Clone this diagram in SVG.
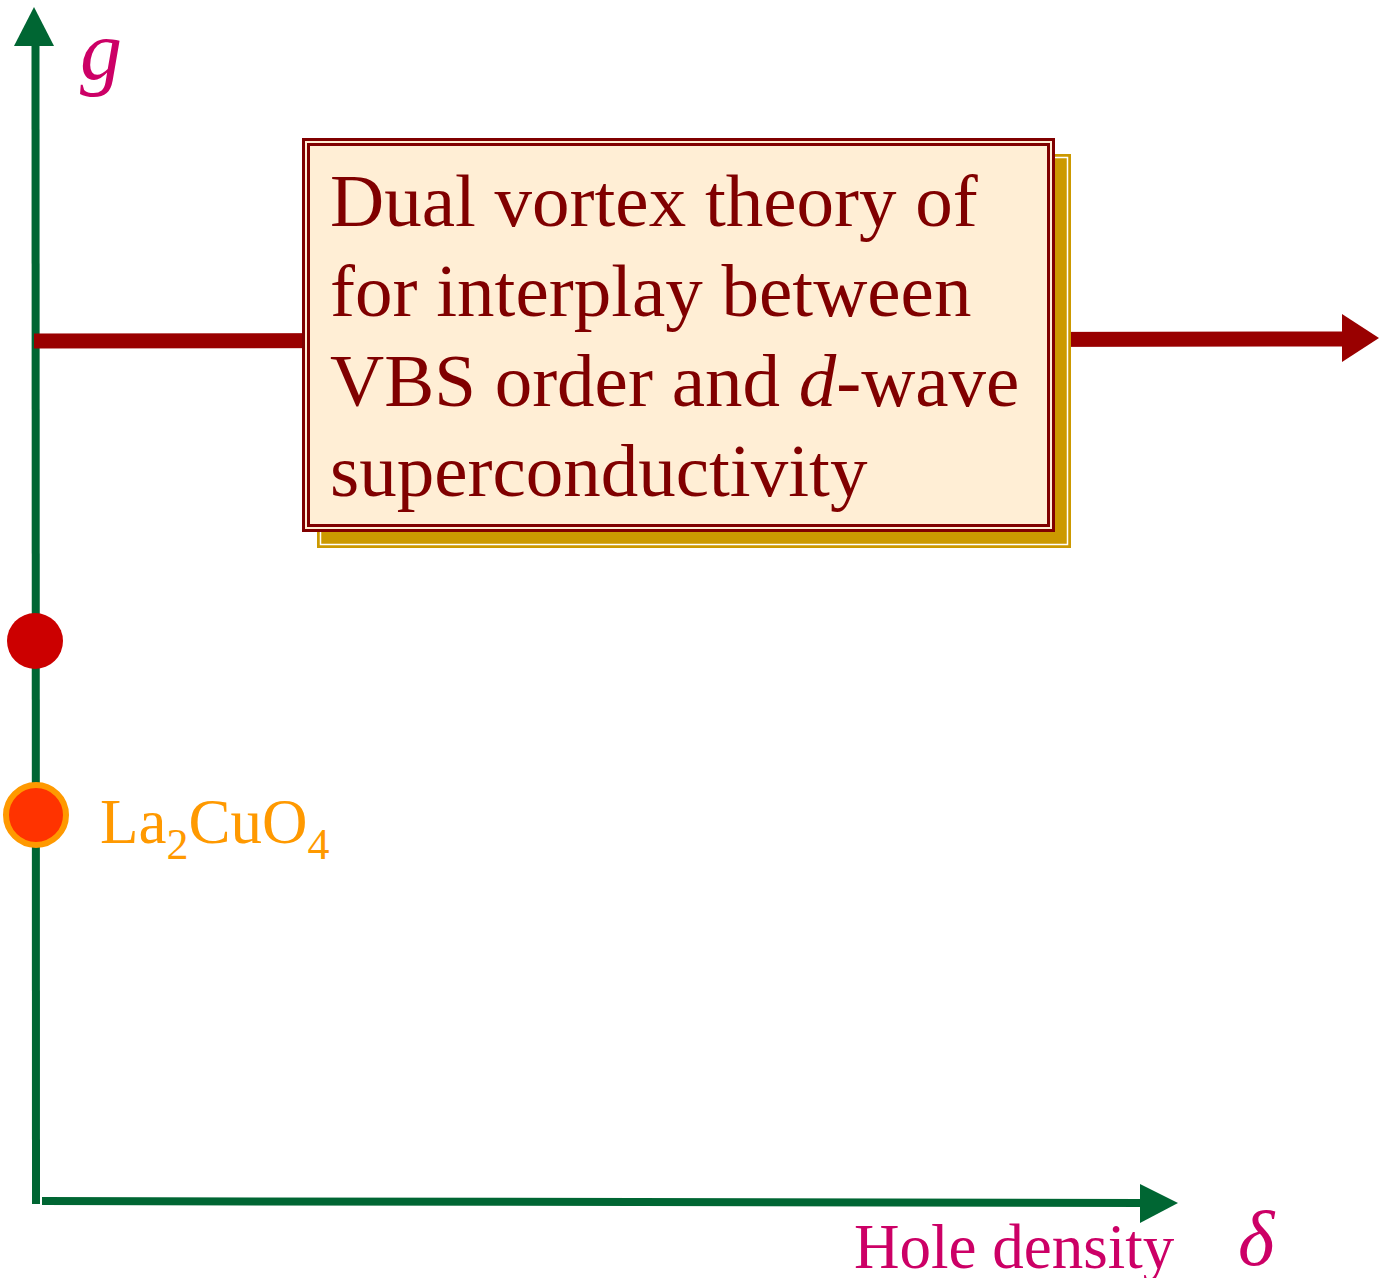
<svg xmlns="http://www.w3.org/2000/svg" width="1379" height="1278" viewBox="0 0 1379 1278">
<style>
.axis{stroke:#006633;stroke-width:8;fill:none}
.serif{font-family:"Liberation Serif","Times New Roman",serif}
.boxtext{font-size:75px;fill:#800000}
.mag{fill:#CC0066}
</style>
<rect width="1379" height="1278" fill="#ffffff"/>
<g id="connectors">
  <line class="axis" x1="35.5" y1="44" x2="36" y2="1204"/>
  <polygon points="34,7 14,46 54,46" fill="#006633"/>
  <line class="axis" x1="42" y1="1201" x2="1142" y2="1203"/>
  <polygon points="1140,1184 1178,1203 1140,1223" fill="#006633"/>
  <line x1="34" y1="341" x2="1344" y2="339" stroke="#990000" stroke-width="15"/>
  <polygon points="1342,314 1379,338 1342,362" fill="#990000"/>
</g>
<g id="theory-box">
  <rect x="317" y="154" width="754" height="394" fill="#CC9900"/>
  <rect x="320.5" y="157.5" width="747" height="387" fill="none" stroke="#ffffff" stroke-width="1.5"/>
  <rect x="303.5" y="139.5" width="750" height="391" fill="#FFEED5" stroke="#800000" stroke-width="3"/>
  <rect x="308.5" y="144.5" width="740" height="381" fill="#FFEED5" stroke="#800000" stroke-width="3"/>
  <text class="serif boxtext" x="330" y="226">Dual vortex theory of</text>
  <text class="serif boxtext" x="330" y="316">for interplay between</text>
  <text class="serif boxtext" x="330" y="406">VBS order and <tspan font-style="italic">d</tspan>-wave</text>
  <text class="serif boxtext" x="330" y="496">superconductivity</text>
</g>
<g id="g-label">
  <text class="serif mag" x="80" y="79" font-size="84" font-style="italic">g</text>
</g>
<g id="red-point">
  <circle cx="35" cy="641" r="28" fill="#CC0000"/>
</g>
<g id="la2cuo4">
  <circle cx="36" cy="815" r="30" fill="#FF3300" stroke="#FF9900" stroke-width="6"/>
  <text class="serif" x="100" y="843" font-size="63" fill="#FF9900">La<tspan font-size="44" dy="16">2</tspan><tspan dy="-16">CuO</tspan><tspan font-size="44" dy="16">4</tspan></text>
</g>
<g id="x-label">
  <text class="serif mag" x="854" y="1268" font-size="63">Hole density</text>
  <text class="serif mag" x="1238" y="1265" font-size="78" font-style="italic">δ</text>
</g>
</svg>
